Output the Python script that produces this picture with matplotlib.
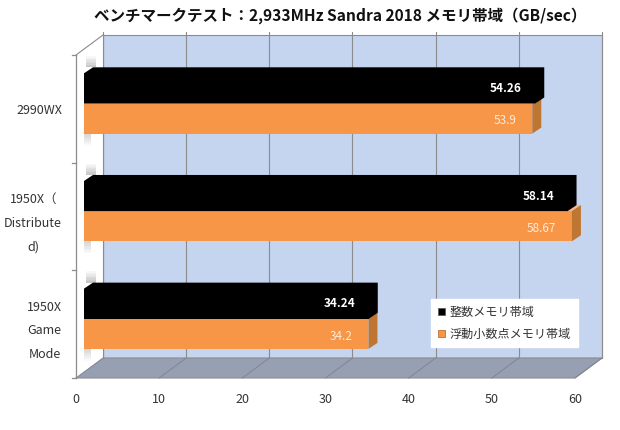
import matplotlib
matplotlib.use('Agg')
import matplotlib.pyplot as plt
from matplotlib.patches import Polygon, Patch

plt.rcParams['font.family'] = ['Noto Sans CJK JP', 'DejaVu Sans']

# ---- data ----
categories = ['2990WX', '1950X（\nDistribute\nd)', '1950X\nGame\nMode']
integer_bw = [54.26, 58.14, 34.24]
float_bw = [53.9, 58.67, 34.2]
series_names = ['整数メモリ帯域', '浮動小数点メモリ帯域']
xticks = [0, 10, 20, 30, 40, 50, 60]
title = 'ベンチマークテスト：2,933MHz Sandra 2018 メモリ帯域（GB/sec）'

# ---- styles ----
C_BLACK = '#000000'
C_ORANGE = '#F79646'
C_ORANGE_SIDE = '#C07633'
C_ORANGE_TOP = '#F9B584'
C_WALL = '#C5D4EF'
C_FLOOR = '#97A0B2'
C_LINE = '#8C8C8C'
C_TEXT = '#333333'

W, H = 620, 430
fig = plt.figure(figsize=(W / 100, H / 100), dpi=100)
ax = fig.add_axes([76 / W, 52 / H, 499 / W, 323 / H])
ax.set_xlim(0, 60)
ax.set_ylim(2.5, -0.5)
ax.patch.set_visible(False)
for s in ax.spines.values():
    s.set_visible(False)

px_x = 60 / 499
px_y = 3 / 323
BX, BY = 27 * px_x, -20 * px_y      # back-wall depth offset
DX, DY = 9 * px_x, -6 * px_y        # bar depth
X0 = 8 * px_x                       # bar front-face origin
YB, YT = 2.5, -0.5

def poly(pts, **kw):
    p = Polygon(pts, closed=True, clip_on=False, **kw)
    ax.add_patch(p)
    return p

# back wall
poly([(BX, YT + BY), (60 + BX, YT + BY), (60 + BX, YB + BY), (BX, YB + BY)],
     facecolor=C_WALL, edgecolor=C_LINE, lw=0.8, zorder=0.5)
# floor
poly([(0, YB), (60, YB), (60 + BX, YB + BY), (BX, YB + BY)],
     facecolor=C_FLOOR, edgecolor=C_LINE, lw=0.8, zorder=0.6)
# left wall
poly([(0, YT), (BX, YT + BY), (BX, YB + BY), (0, YB)],
     facecolor='white', edgecolor='none', zorder=0.6)
ax.plot([0, BX], [YT, YT + BY], color=C_LINE, lw=0.8, clip_on=False, zorder=0.7)
ax.plot([0, 0], [YT, YB], color=C_LINE, lw=0.9, clip_on=False, zorder=0.7)
ax.plot([BX, BX], [YT + BY, YB + BY], color=C_LINE, lw=0.8, clip_on=False, zorder=0.7)
for b in [YT, 0.5, 1.5, YB]:
    ax.plot([-4 * px_x, 0], [b, b], color=C_LINE, lw=0.9, clip_on=False, zorder=0.7)

# gridlines on wall and floor
for t in xticks:
    ax.plot([t + BX, t + BX], [YB + BY, YT + BY - 3 * px_y], color=C_LINE, lw=0.8,
            clip_on=False, zorder=0.55)
    ax.plot([t, t + BX], [YB, YB + BY], color='#7E8696', lw=0.7,
            clip_on=False, zorder=0.65)

# bars
y_pos = list(range(len(categories)))
hb = 0.28
black_top = [y - 0.33 for y in y_pos]
orange_top = [y - 0.05 for y in y_pos]

# small shadows on the left wall around each bar
n = 8
for yt, yo in zip(black_top, orange_top):
    for k in range(n):
        a = 0.45 * (1 - k / n)
        y0 = yt + DY - (k + 1) * 1.4 * px_y
        poly([(X0 + 2 * px_x, y0), (X0 + DX * 1.3, y0), (X0 + DX * 1.3, y0 + 1.4 * px_y),
              (X0 + 2 * px_x, y0 + 1.4 * px_y)],
             facecolor='#808080', alpha=a, edgecolor='none', zorder=0.8)
        y1 = yo + hb + k * 1.5 * px_y
        poly([(X0, y1), (X0 + DX * 0.8, y1), (X0 + DX * 0.8, y1 + 1.5 * px_y), (X0, y1 + 1.5 * px_y)],
             facecolor='#909090', alpha=a * 0.8, edgecolor='none', zorder=0.8)

ax.barh([t + hb / 2 for t in orange_top], float_bw, height=hb, left=X0,
        color=C_ORANGE, zorder=2, clip_on=False)
for yt, v in zip(orange_top, float_bw):
    x1 = X0 + v
    poly([(x1, yt), (x1 + DX, yt + DY), (x1 + DX, yt + hb + DY), (x1, yt + hb)],
         facecolor=C_ORANGE_SIDE, edgecolor='none', zorder=2.1)
    poly([(X0, yt), (X0 + DX, yt + DY), (x1 + DX, yt + DY), (x1, yt)],
         facecolor=C_ORANGE_TOP, edgecolor='none', zorder=2.05)

ax.barh([t + hb / 2 for t in black_top], integer_bw, height=hb, left=X0,
        color=C_BLACK, zorder=3, clip_on=False)
for yt, v in zip(black_top, integer_bw):
    x1 = X0 + v
    poly([(X0, yt + hb), (X0, yt), (X0 + DX, yt + DY), (x1 + DX, yt + DY),
          (x1 + DX, yt + hb + DY), (x1, yt + hb)],
         facecolor=C_BLACK, edgecolor='none', zorder=3.1)

# value labels
for yt, v in zip(black_top, integer_bw):
    ax.text(X0 + v - 1.6, yt + hb / 2, f'{v:g}', ha='right', va='center',
            color='white', fontsize=8.5, fontweight='bold', zorder=5)
for yt, v in zip(orange_top, float_bw):
    ax.text(X0 + v - 1.9, yt + hb / 2 + 0.02, f'{v:g}', ha='right', va='center',
            color='#FDEBDC', fontsize=8.5, zorder=5)

# ticks
ax.set_xticks(xticks)
ax.set_xticklabels([str(t) for t in xticks])
ax.tick_params(axis='x', length=0, pad=10.5, labelsize=9, labelcolor=C_TEXT)
ax.set_yticks(y_pos)
ax.set_yticklabels(categories)
ax.tick_params(axis='y', length=0, pad=10, labelsize=9, labelcolor=C_TEXT)
for lab in ax.get_yticklabels():
    lab.set_multialignment('center')
    lab.set_linespacing(2.05)

# title
fig.text(340 / W, 1 - 16 / H, title, ha='center', va='center',
         fontsize=11.2, fontweight='bold', color='#111111')

# legend
handles = [Patch(facecolor=C_BLACK, edgecolor='#555555', lw=0.5),
           Patch(facecolor=C_ORANGE, edgecolor='#B06020', lw=0.5)]
leg = fig.legend(handles, series_names, loc='upper left',
                 bbox_to_anchor=(431 / W, 1 - 299 / H), frameon=True, fancybox=False,
                 facecolor='white', edgecolor='white', framealpha=1, borderaxespad=0,
                 fontsize=8.7, handlelength=0.6, handleheight=0.6, handletextpad=0.4,
                 labelspacing=0.75, borderpad=0.55, labelcolor=C_TEXT)
leg.set_zorder(10)

fig.savefig('out.png', dpi=100, facecolor='white')
